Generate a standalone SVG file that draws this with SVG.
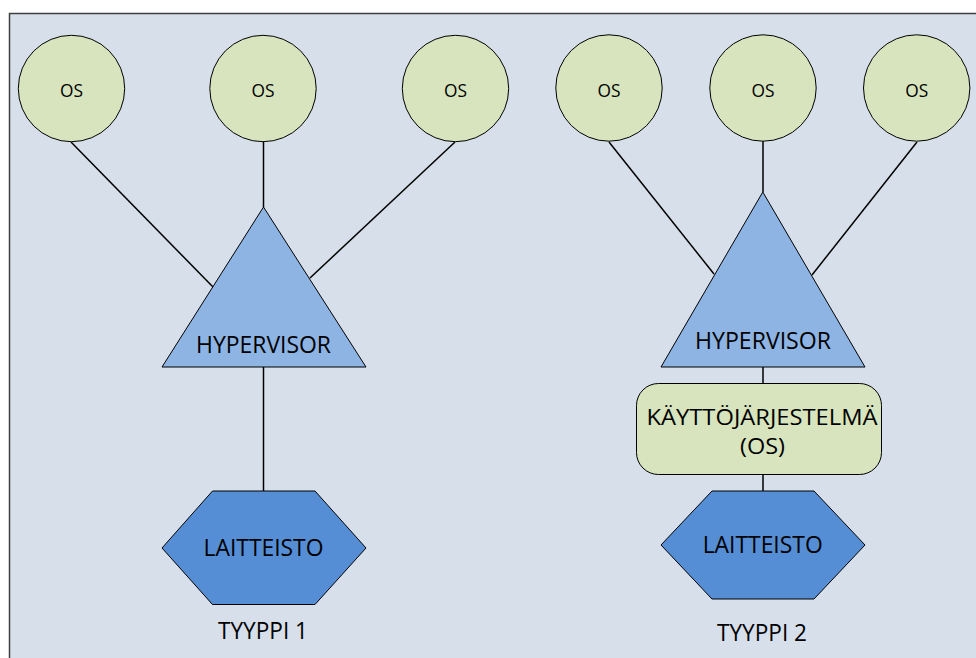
<svg xmlns="http://www.w3.org/2000/svg" width="976" height="658" viewBox="0 0 976 658">
  <style>
    .frame { fill: #D6DFEA; stroke: #3F3F3F; stroke-width: 1.5; }
    .vm { fill: #D7E4BD; stroke: #000; stroke-width: 1; }
    .hyp { fill: #8EB4E3; stroke: #000; stroke-width: 1; }
    .hw { fill: #558ED5; stroke: #000; stroke-width: 1; }
    .host { fill: #D7E4BD; stroke: #000; stroke-width: 1; }
    .link { stroke: #000; stroke-width: 1.5; fill: none; }
    text { font-family: "Open Sans", "Liberation Sans", Arial, sans-serif; fill: #000; text-anchor: middle; }
    .os { font-size: 19px; }
    .lbl { font-size: 24.5px; }
    .two { font-size: 21.5px; }
  </style>

  <!-- background panel -->
  <rect class="frame" x="9.5" y="13.5" width="990" height="670"/>

  <!-- connectors -->
  <g id="connectors">
    <!-- type 1 -->
    <line class="link" x1="71" y1="142" x2="213" y2="287"/>
    <line class="link" x1="263.5" y1="141" x2="263.5" y2="207"/>
    <line class="link" x1="455" y1="142" x2="310" y2="278"/>
    <line class="link" x1="263.5" y1="367" x2="263.5" y2="491"/>
    <!-- type 2 -->
    <line class="link" x1="609" y1="142" x2="714" y2="274"/>
    <line class="link" x1="763" y1="141" x2="763" y2="192"/>
    <line class="link" x1="917" y1="142" x2="812" y2="275"/>
    <line class="link" x1="763" y1="367" x2="763" y2="384"/>
    <line class="link" x1="763" y1="474" x2="763" y2="491"/>
  </g>

  <!-- type 1: guest systems -->
  <g id="t1-os1">
    <circle class="vm" cx="71.5" cy="88.5" r="53.2"/>
    <text class="os" x="71.5" y="97" textLength="23" lengthAdjust="spacingAndGlyphs">OS</text>
  </g>
  <g id="t1-os2">
    <circle class="vm" cx="263" cy="88.5" r="53.2"/>
    <text class="os" x="263" y="97" textLength="23" lengthAdjust="spacingAndGlyphs">OS</text>
  </g>
  <g id="t1-os3">
    <circle class="vm" cx="455.5" cy="88.5" r="53.2"/>
    <text class="os" x="455.5" y="97" textLength="23" lengthAdjust="spacingAndGlyphs">OS</text>
  </g>

  <!-- type 1: hypervisor -->
  <g id="t1-hypervisor">
    <polygon class="hyp" points="263.5,207 162,367 366,367"/>
    <text class="lbl" x="263.5" y="353" textLength="135" lengthAdjust="spacingAndGlyphs">HYPERVISOR</text>
  </g>

  <!-- type 1: hardware -->
  <g id="t1-hardware">
    <polygon class="hw" points="212.5,491 315,491 366,548 315,604.5 212.5,604.5 162,548"/>
    <text class="lbl" x="263.5" y="556" textLength="120" lengthAdjust="spacingAndGlyphs">LAITTEISTO</text>
  </g>
  <g id="t1-caption">
    <text class="lbl" x="263" y="638.5" textLength="90" lengthAdjust="spacingAndGlyphs">TYYPPI 1</text>
  </g>

  <!-- type 2: guest systems -->
  <g id="t2-os1">
    <circle class="vm" cx="609" cy="88" r="53.2"/>
    <text class="os" x="609" y="97" textLength="23" lengthAdjust="spacingAndGlyphs">OS</text>
  </g>
  <g id="t2-os2">
    <circle class="vm" cx="763" cy="88" r="53.2"/>
    <text class="os" x="763" y="97" textLength="23" lengthAdjust="spacingAndGlyphs">OS</text>
  </g>
  <g id="t2-os3">
    <circle class="vm" cx="916.7" cy="88" r="53.2"/>
    <text class="os" x="916.7" y="97" textLength="23" lengthAdjust="spacingAndGlyphs">OS</text>
  </g>

  <!-- type 2: hypervisor -->
  <g id="t2-hypervisor">
    <polygon class="hyp" points="762.8,192 661,367 865,367"/>
    <text class="lbl" x="763" y="348.5" textLength="136" lengthAdjust="spacingAndGlyphs">HYPERVISOR</text>
  </g>

  <!-- type 2: host operating system -->
  <g id="t2-host-os">
    <rect class="host" x="636.5" y="383.5" width="245" height="91" rx="22" ry="22"/>
    <text class="two" x="762" y="425" textLength="231" lengthAdjust="spacingAndGlyphs">KÄYTTÖJÄRJESTELMÄ</text>
    <text class="two" x="762.5" y="453.5" textLength="45" lengthAdjust="spacingAndGlyphs">(OS)</text>
  </g>

  <!-- type 2: hardware -->
  <g id="t2-hardware">
    <polygon class="hw" points="712,491 814,491 865,545 814,599 712,599 661,545"/>
    <text class="lbl" x="762.7" y="553" textLength="120" lengthAdjust="spacingAndGlyphs">LAITTEISTO</text>
  </g>
  <g id="t2-caption">
    <text class="lbl" x="762" y="641" textLength="90" lengthAdjust="spacingAndGlyphs">TYYPPI 2</text>
  </g>
</svg>
